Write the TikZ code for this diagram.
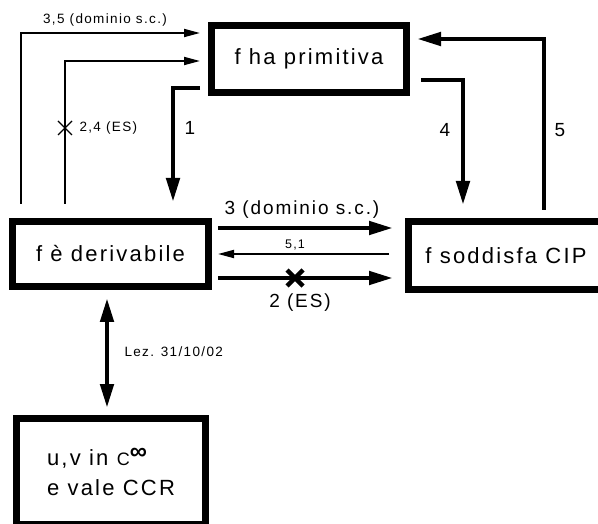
\documentclass[tikz,border=0pt]{standalone}
\usepackage{fontspec}
\setmainfont{Liberation Sans}[LetterSpace=10]
\usetikzlibrary{arrows.meta,calc}

\begin{document}
\begin{tikzpicture}[x=1pt,y=-1pt,
  box/.style={draw,line width=7pt,inner sep=0pt,font=\fontsize{22}{30}\selectfont},
  thinarrow/.style={line width=1.8pt,-{Triangle[width=8pt,length=16pt]}},
  thickarrow/.style={line width=4.6pt,-{Triangle[width=13pt,length=24pt]}},
  biglabel/.style={font=\fontsize{19}{22}\selectfont},
  smalllabel/.style={font=\fontsize{13.5}{16}\selectfont},
]
\useasboundingbox (0,0) rectangle (598,524);

% statements
\node[box,minimum width=195pt,minimum height=67pt] (prim) at (309,59) {f ha primitiva};
\node[box,minimum width=196pt,minimum height=65pt] (deriv) at (110.5,254) {f è derivabile};
\node[box,minimum width=205pt,minimum height=68pt] (cip) at (511,255.5) {f soddisfa CIP\hspace*{10pt}};
\node[box,minimum width=189pt,minimum height=106pt,align=left] (uv) at (111,471.5)
  {u,v in {\fontsize{18}{18}\selectfont C}\raisebox{6pt}{\fontsize{24}{24}\selectfont\bfseries ∞}\\e vale CCR};

% derivabile -> primitiva (thin, upper route)
\draw[thinarrow] ([xshift=12pt,yshift=14pt]deriv.north west) |- ([xshift=-8pt,yshift=-11pt]prim.north west);
\node[smalllabel] (l35) at (105,20) {3,5 (dominio s.c.)};

% derivabile -> primitiva (false in general)
\draw[thinarrow] ([xshift=56pt,yshift=14pt]deriv.north west) |- ([xshift=-8pt,yshift=-39pt]prim.north west);
\coordinate (xb) at (65,128);
\draw[line width=1.3pt] ($(xb)+(-7,-7)$) -- ($(xb)+(7,7)$) ($(xb)+(-7,7)$) -- ($(xb)+(7,-7)$);
\node[smalllabel,anchor=west] (l24) at (76,128) {2,4 (ES)};

% primitiva -> derivabile
\draw[thickarrow] ([xshift=-8pt,yshift=8pt]prim.south west) -| ([xshift=164pt,yshift=16pt]deriv.north west);
\node[biglabel] (l1) at (190,128) {1};

% primitiva -> CIP
\draw[thickarrow] ([xshift=11pt,yshift=16pt]prim.south east) -| ([xshift=58pt,yshift=13pt]cip.north west);
\node[biglabel] (l4) at (445,130) {4};

% CIP -> primitiva
\draw[thickarrow] ([xshift=139pt,yshift=8pt]cip.north west) |- ([xshift=7pt,yshift=-17pt]prim.north east);
\node[biglabel] (l5) at (560,130) {5};

% derivabile <-> CIP
\coordinate (a3s) at ([xshift=6pt,yshift=-10pt]deriv.north east);
\draw[thickarrow] (a3s) -- ($(a3s -| cip.west)+(-12,0)$);
\node[biglabel] (l3) at (302,210) {3 (dominio s.c.)};

\draw[thinarrow] ($(deriv.east -| cip.west)+(-16,0)$) -- ($(deriv.east)+(6,0)$);
\node[font=\fontsize{12.5}{14}\selectfont] (l51) at (295,245) {5,1};

\coordinate (a2s) at ([xshift=6pt,yshift=12pt]deriv.south east);
\draw[thickarrow] (a2s) -- ($(a2s -| cip.west)+(-12,0)$);
\coordinate (x2) at (295,278);
\draw[line width=4.5pt] ($(x2)+(-8,-8)$) -- ($(x2)+(8,8)$) ($(x2)+(-8,8)$) -- ($(x2)+(8,-8)$);
\node[biglabel] (l2) at (300,303) {2 (ES)};

% derivabile <-> CCR
\draw[line width=4.6pt,{Triangle[width=13pt,length=24pt]}-{Triangle[width=13pt,length=24pt]}]
  ($(deriv.south)+(-3.5,8)$) -- ($(deriv.south |- uv.north)+(-3.5,-7)$);
\node[smalllabel,anchor=west] (lez) at (121,352) {Lez. 31/10/02};
\end{tikzpicture}
\end{document}
